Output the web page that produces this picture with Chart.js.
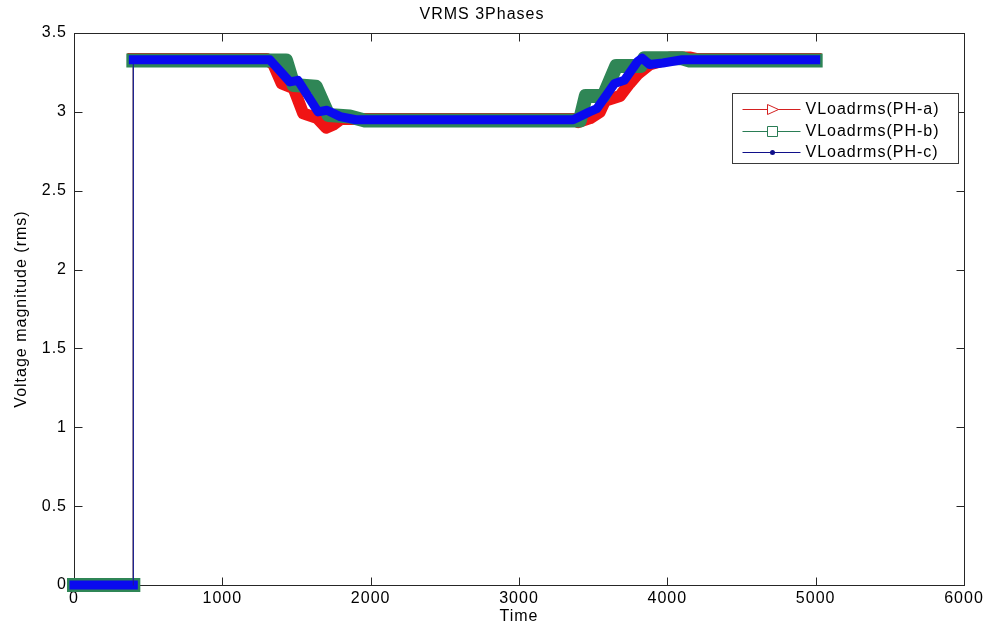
<!DOCTYPE html>
<html>
<head>
<meta charset="utf-8">
<title>VRMS 3Phases</title>
<script src="https://cdn.jsdelivr.net/npm/chart.js@4.4.0/dist/chart.umd.min.js"></script>
<style>
  html, body { margin: 0; padding: 0; background: #fff; }
  #wrap { width: 986px; height: 628px; }
</style>
</head>
<body>
<div id="wrap"><canvas id="vrmsChart" width="986" height="628"></canvas></div>
<script>
// load voltage (rms) for each phase, one point per corner of the trace
var timeA = [0, 400, 400, 1300, 1345, 1400, 1480, 1545, 1640, 1700, 1750, 1800, 3380, 3400, 3480, 3545, 3580, 3680, 3745, 3800, 3880, 3950, 4020, 4150, 4200, 5000];
var voltA = [0, 0, 3.335, 3.335, 3.30, 3.18, 3.15, 2.99, 2.96, 2.90, 2.92, 2.955, 2.955, 2.935, 2.96, 3.00, 3.07, 3.10, 3.18, 3.24, 3.30, 3.32, 3.345, 3.345, 3.335, 3.335];

var timeB = [0, 400, 400, 1430, 1480, 1630, 1715, 1860, 1960, 3410, 3450, 3570, 3655, 3820, 3845, 4100, 4150, 5000];
var voltB = [0, 0, 3.325, 3.325, 3.17, 3.16, 2.98, 2.97, 2.945, 2.945, 3.10, 3.10, 3.29, 3.29, 3.34, 3.34, 3.325, 3.325];

var timeC = [0, 400, 400, 1320, 1455, 1510, 1645, 1705, 1795, 1900, 3365, 3475, 3525, 3645, 3710, 3800, 3830, 3880, 3970, 4100, 5000];
var voltC = [0, 0, 3.33, 3.33, 3.19, 3.20, 3.00, 3.01, 2.97, 2.95, 2.95, 3.00, 3.02, 3.18, 3.20, 3.32, 3.34, 3.30, 3.31, 3.33, 3.33];

var seriesNames = ['VLoadrms(PH-a)', 'VLoadrms(PH-b)', 'VLoadrms(PH-c)'];
var xTicks = [0, 1000, 2000, 3000, 4000, 5000, 6000];
var yTicks = [0, 0.5, 1, 1.5, 2, 2.5, 3, 3.5];

var fontFam = '"Liberation Sans", Arial, Helvetica, sans-serif';
var red = '#f01414', green = '#2f8656', blue = '#0a0af0';

function pts(t, v) {
    var out = [];
    for (var i = 0; i < t.length; i++) out.push({x: t[i], y: v[i]});
    return out;
}

// the jump at switch-on is a plain thin line, the rest is drawn heavy
function thinJump(w, col, jumpCol) {
    return {
        borderWidth: function(c) { return c.p0.parsed.x === c.p1.parsed.x ? 1.2 : w; },
        borderColor: function(c) { return c.p0.parsed.x === c.p1.parsed.x ? jumpCol : col; }
    };
}

function series(name, t, v, col, w, jumpCol, ord) {
    return {
        label: name,
        data: pts(t, v),
        borderColor: col,
        borderWidth: w,
        borderCapStyle: 'square',
        borderJoinStyle: 'round',
        pointRadius: 0,
        segment: thinJump(w, col, jumpCol),
        clip: false,
        order: ord
    };
}

// matlab style frame: box round the axes, ticks pointing inwards on all sides
var axesBox = {
    id: 'axesBox',
    beforeDraw: function(chart) {
        chart.ctx.letterSpacing = '1px';
    },
    beforeDatasetsDraw: function(chart) {
        var ctx = chart.ctx, a = chart.chartArea;
        var sx = chart.scales.x, sy = chart.scales.y;
        var L = Math.round(a.left) + 0.5, R = Math.round(a.right) + 0.5;
        var T = Math.round(a.top) + 0.5, B = Math.round(a.bottom) + 0.5;
        ctx.save();
        ctx.strokeStyle = '#262626';
        ctx.lineWidth = 1;
        ctx.strokeRect(L, T, R - L, B - T);
        ctx.beginPath();
        sx.ticks.forEach(function(tk) {
            var px = Math.round(sx.getPixelForValue(tk.value)) + 0.5;
            ctx.moveTo(px, B); ctx.lineTo(px, B - 8);
            ctx.moveTo(px, T); ctx.lineTo(px, T + 8);
        });
        sy.ticks.forEach(function(tk) {
            var py = Math.round(sy.getPixelForValue(tk.value)) + 0.5;
            ctx.moveTo(L, py); ctx.lineTo(L + 8, py);
            ctx.moveTo(R, py); ctx.lineTo(R - 8, py);
        });
        ctx.stroke();
        ctx.restore();
    },
    afterDraw: function(chart) {
        var ctx = chart.ctx, a = chart.chartArea;
        var bx = Math.round(a.right) - 232 + 0.5, by = Math.round(a.top) + 60 + 0.5;
        var bw = 226, bh = 70;
        ctx.save();
        ctx.fillStyle = '#fff';
        ctx.fillRect(bx, by, bw, bh);
        ctx.strokeStyle = '#3a3a3a';
        ctx.lineWidth = 1;
        ctx.strokeRect(bx, by, bw, bh);
        var cols = ['#d42020', '#2a7d55', '#10108a'];
        var rows = [15, 37, 58];
        for (var i = 0; i < 3; i++) {
            var cy = Math.round(by + rows[i]) + 0.5;
            var x0 = bx + 10, x1 = bx + 68, cx = bx + 40;
            ctx.strokeStyle = cols[i];
            ctx.fillStyle = cols[i];
            ctx.lineWidth = 1;
            ctx.beginPath();
            ctx.moveTo(x0, cy); ctx.lineTo(x1, cy);
            ctx.stroke();
            ctx.beginPath();
            if (i === 0) {
                ctx.moveTo(cx - 5, cy - 5); ctx.lineTo(cx + 6, cy); ctx.lineTo(cx - 5, cy + 5); ctx.closePath();
                ctx.fillStyle = '#fff'; ctx.fill(); ctx.stroke();
            } else if (i === 1) {
                ctx.rect(cx - 5, cy - 5, 10, 10);
                ctx.fillStyle = '#fff'; ctx.fill(); ctx.stroke();
            } else {
                ctx.arc(cx, cy, 2.5, 0, Math.PI * 2);
                ctx.fill();
            }
            ctx.fillStyle = '#000';
            ctx.font = '16px ' + fontFam;
            ctx.textBaseline = 'middle';
            ctx.textAlign = 'left';
            ctx.fillText(seriesNames[i], bx + 73, cy);
        }
        ctx.restore();
    }
};

var ctx = document.getElementById('vrmsChart').getContext('2d');
var chart = new Chart(ctx, {
    type: 'line',
    data: {
        datasets: [
            series(seriesNames[0], timeA, voltA, red, 12, red, 3),
            series(seriesNames[1], timeB, voltB, green, 14, green, 2),
            series(seriesNames[2], timeC, voltC, blue, 9, '#1c1c96', 1)
        ]
    },
    options: {
        responsive: false,
        animation: false,
        devicePixelRatio: 1,
        layout: { padding: { left: 0, right: 22, top: 0, bottom: 0 } },
        plugins: {
            legend: { display: false },
            tooltip: { enabled: false },
            title: {
                display: true,
                text: 'VRMS 3Phases',
                color: '#000',
                font: { family: fontFam, size: 16, weight: 'normal', lineHeight: 1.2 },
                padding: { top: 5, bottom: 8.8 }
            }
        },
        scales: {
            x: {
                type: 'linear',
                min: 0,
                max: 6000,
                afterBuildTicks: function(s) { s.ticks = xTicks.map(function(v) { return {value: v}; }); },
                afterFit: function(s) { s.height = 43; },
                ticks: {
                    color: '#000',
                    padding: 4,
                    maxRotation: 0,
                    font: { family: fontFam, size: 16 },
                    callback: function(v) { return String(v); }
                },
                grid: { display: false, drawTicks: false },
                border: { display: false },
                title: {
                    display: true,
                    text: 'Time',
                    color: '#000',
                    font: { family: fontFam, size: 16 },
                    padding: { top: 0, bottom: 1.4 }
                }
            },
            y: {
                min: 0,
                max: 3.5,
                afterBuildTicks: function(s) { s.ticks = yTicks.map(function(v) { return {value: v}; }); },
                afterFit: function(s) { s.width = 74; },
                ticks: {
                    color: '#000',
                    padding: 7,
                    font: { family: fontFam, size: 16 },
                    callback: function(v) { return String(v); }
                },
                grid: { display: false, drawTicks: false },
                border: { display: false },
                title: {
                    display: true,
                    text: 'Voltage magnitude (rms)',
                    color: '#000',
                    font: { family: fontFam, size: 16 },
                    padding: { top: 12, bottom: 0 }
                }
            }
        }
    },
    plugins: [axesBox]
});
</script>
</body>
</html>
